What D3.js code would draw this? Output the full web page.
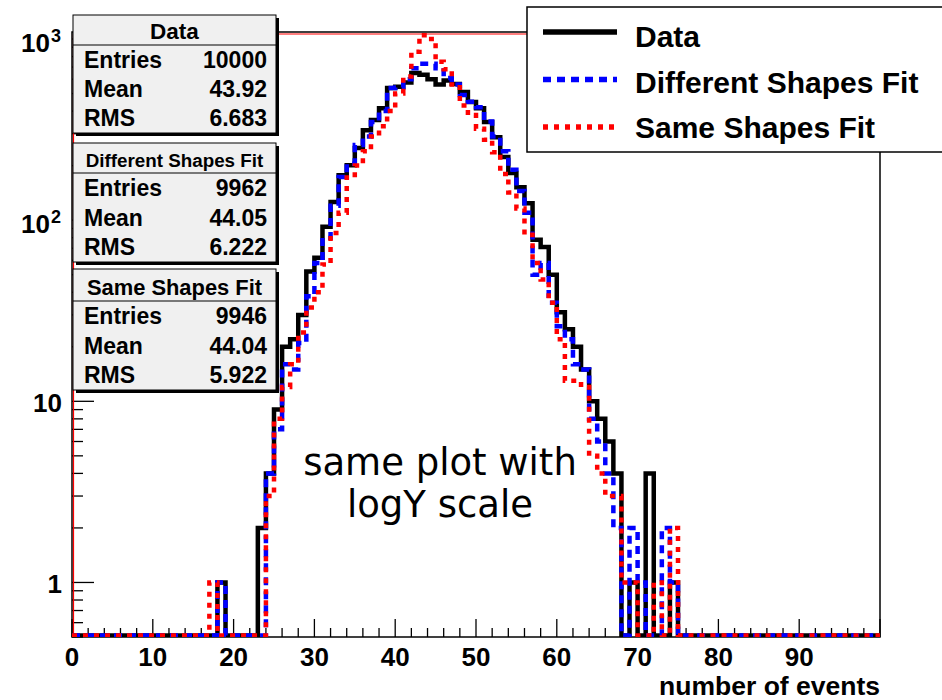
<!DOCTYPE html>
<html><head><meta charset="utf-8">
<script src="https://cdn.jsdelivr.net/npm/d3@7"></script>
<style>body{margin:0;background:#fff}svg{display:block}</style>
</head><body>
<svg id="c" width="942" height="700"></svg>
<script>
// ---------------- data ----------------
const nBins = 100;          // histogram: 100 bins of width 1 on [0,100)
const firstBin = 17;        // arrays below start at bin 17 and end at bin 74
const dataCounts = [0,1,0,0,0,0,2,4,9,20,22,30,52,62,92,126,177,201,250,314,357,415,536,545,575,650,635,600,560,590,565,510,449,415,348,287,223,182,152,124,78,71,50,31,25,20,15,10,8,6,4,0,1,0,4,0,0,1];
const diffShapeCounts = [0,1,0,0,0,0,0,4,7,16,15,21,38,58,80,120,173,205,260,290,348,400,536,540,600,690,730,730,690,610,560,490,450,420,350,290,240,190,145,110,50,58,35,26,22,16,15,8,6,4,2,0,2,1,0,0,2,1];
const sameShapeCounts = [1,0,0,0,0,0,0,3,8,12,16,24,33,40,57,85,110,172,200,240,290,330,400,500,620,850,1050,1000,750,680,560,430,380,320,278,237,180,142,116,83,58,47,35,22,13,13,12,5,4,3,3,1,1,0,0,1,0,2];
const xTickValues = [0,10,20,30,40,50,60,70,80,90];
const xTickLabels = ["0","10","20","30","40","50","60","70","80","90"];
const yTickValues = [1,10,100,1000];
const yTickLabels = [["1",""],["10",""],["10","2"],["10","3"]];
const statsTitles = ["Data","Different Shapes Fit","Same Shapes Fit"];
const statsEntries = ["10000","9962","9946"];
const statsMean = ["43.92","44.05","44.04"];
const statsRMS = ["6.683","6.222","5.922"];
const legendLabels = ["Data","Different Shapes Fit","Same Shapes Fit"];
const annotationLines = ["same plot with","logY scale"];
const xTitle = "number of events";

// ---------------- layout ----------------
const frame = {l:72, r:880, t:32, b:637};
const FONT = "'Liberation Sans', Arial, Helvetica, sans-serif";
const svg = d3.select("#c");

const x = d3.scaleLinear().domain([0, 100]).range([frame.l, frame.r]);
const y = d3.scaleLog().domain([0.5, 1093]).range([frame.b, frame.t]);
const zeroFloor = 0.51;

function expand(arr){
  const out = new Array(nBins).fill(0);
  arr.forEach((v,i)=>{ out[firstBin+i] = v; });
  return out;
}
const series = [
  {name:legendLabels[0], counts:expand(dataCounts), color:"#000", width:4.5, dash:null},
  {name:legendLabels[1], counts:expand(diffShapeCounts), color:"#0000ff", width:4.5, dash:"8,6"},
  {name:legendLabels[2], counts:expand(sameShapeCounts), color:"#ff0000", width:4.5, dash:"5,6"}
];

svg.append("defs").append("clipPath").attr("id","fc")
  .append("rect").attr("x",frame.l).attr("y",frame.t-3)
  .attr("width",frame.r-frame.l).attr("height",frame.b-frame.t+3);

// ticks (inside, ROOT style)
const yMinor = [];
[0.1,1,10,100].forEach(d=>{ for(let k=2;k<=9;k++){ const v=d*k; if(v>=0.5 && v<=1093) yMinor.push(v);} });
const gy = svg.append("g");
gy.selectAll("line.maj").data(yTickValues).join("line")
  .attr("x1",frame.l).attr("x2",frame.l+22).attr("y1",d=>y(d)).attr("y2",d=>y(d))
  .attr("stroke","#000").attr("stroke-width",1.3);
gy.selectAll("line.min").data(yMinor).join("line")
  .attr("x1",frame.l).attr("x2",frame.l+11).attr("y1",d=>y(d)).attr("y2",d=>y(d))
  .attr("stroke","#000").attr("stroke-width",1.3);

const xMinor = d3.range(0, 101, 2).filter(v=>v%10!==0);
const gx = svg.append("g");
gx.selectAll("line.maj").data(xTickValues.concat([100])).join("line")
  .attr("x1",d=>x(d)).attr("x2",d=>x(d)).attr("y1",frame.b).attr("y2",frame.b-18)
  .attr("stroke","#000").attr("stroke-width",1.3);
gx.selectAll("line.min").data(xMinor).join("line")
  .attr("x1",d=>x(d)).attr("x2",d=>x(d)).attr("y1",frame.b).attr("y2",frame.b-9)
  .attr("stroke","#000").attr("stroke-width",1.3);

// frame
svg.append("rect").attr("x",frame.l).attr("y",frame.t).attr("width",frame.r-frame.l).attr("height",frame.b-frame.t)
  .attr("fill","none").attr("stroke","#000").attr("stroke-width",1.5);
svg.append("line").attr("x1",frame.l+1.5).attr("x2",frame.r).attr("y1",frame.t+2).attr("y2",frame.t+2)
  .attr("stroke","#ff0000").attr("stroke-width",1.2);
svg.append("line").attr("x1",frame.l+1.5).attr("x2",frame.l+1.5).attr("y1",frame.t+2).attr("y2",frame.b)
  .attr("stroke","#ff0000").attr("stroke-width",1.2);

// histograms
const line = d3.line()
  .x(d=>x(d[0]))
  .y(d=>y(Math.max(d[1], zeroFloor)))
  .curve(d3.curveStepAfter);
const gh = svg.append("g").attr("clip-path","url(#fc)");
series.forEach(s=>{
  const pts = s.counts.map((v,i)=>[i, v]);
  pts.push([nBins, s.counts[nBins-1]]);
  gh.append("path").attr("d", line(pts))
    .attr("fill","none").attr("stroke",s.color).attr("stroke-width",s.width)
    .attr("stroke-dasharray",s.dash).attr("stroke-linejoin","miter");
});

// x labels
svg.append("g").selectAll("text").data(xTickValues).join("text")
  .attr("x",d=>x(d)).attr("y",frame.b+29).attr("text-anchor","middle")
  .attr("font-family",FONT).attr("font-weight","bold").attr("font-size",26)
  .text((d,i)=>xTickLabels[i]);
svg.append("text").attr("x",frame.r).attr("y",695).attr("text-anchor","end")
  .attr("font-family",FONT).attr("font-weight","bold").attr("font-size",26.5).text(xTitle);

// y labels
yTickValues.forEach((v,i)=>{
  const [base, ex] = yTickLabels[i];
  if(ex){
    svg.append("text").attr("x",50).attr("y",y(v)+13).attr("text-anchor","end")
      .attr("font-family",FONT).attr("font-weight","bold").attr("font-size",26).text(base);
    svg.append("text").attr("x",51).attr("y",y(v)+3).attr("text-anchor","start")
      .attr("font-family",FONT).attr("font-weight","bold").attr("font-size",18).text(ex);
  } else {
    svg.append("text").attr("x",62).attr("y",y(v)+11).attr("text-anchor","end")
      .attr("font-family",FONT).attr("font-weight","bold").attr("font-size",26).text(base);
  }
});

// annotation
svg.append("g").selectAll("text").data(annotationLines).join("text")
  .attr("x",440).attr("y",(d,i)=>475+i*42).attr("text-anchor","middle")
  .attr("font-family","'DejaVu Sans', sans-serif").attr("font-size",37).attr("fill","#000")
  .text(d=>d);

// stats boxes
const boxes = [
  {top:15, sep:45, bot:133, tsize:22.5},
  {top:143, sep:173, bot:262, tsize:18.8},
  {top:269, sep:301, bot:390, tsize:21.9}
];
const bx0 = 73, bx1 = 276;
boxes.forEach((b,i)=>{
  const g = svg.append("g");
  g.append("rect").attr("x",bx0+3).attr("y",b.top+3).attr("width",bx1-bx0).attr("height",b.bot-b.top).attr("fill","#000");
  g.append("rect").attr("x",bx0).attr("y",b.top).attr("width",bx1-bx0).attr("height",b.bot-b.top)
    .attr("fill","#f0f0f0").attr("stroke","#000").attr("stroke-width",1);
  g.append("line").attr("x1",bx0).attr("x2",bx1).attr("y1",b.sep).attr("y2",b.sep).attr("stroke","#000").attr("stroke-width",1);
  g.append("text").attr("x",(bx0+bx1)/2).attr("y",b.sep-6).attr("text-anchor","middle")
    .attr("font-family",FONT).attr("font-weight","bold").attr("font-size",b.tsize).text(statsTitles[i]);
  const rowH = (b.bot-b.sep)/3;
  const rows = [["Entries",statsEntries[i]],["Mean",statsMean[i]],["RMS",statsRMS[i]]];
  rows.forEach((r,j)=>{
    const yy = b.sep + rowH*(j+0.5) + 8;
    g.append("text").attr("x",bx0+11).attr("y",yy).attr("font-family",FONT).attr("font-weight","bold").attr("font-size",23).text(r[0]);
    g.append("text").attr("x",bx1-9).attr("y",yy).attr("text-anchor","end").attr("font-family",FONT).attr("font-weight","bold").attr("font-size",23).text(r[1]);
  });
});

// legend
const lg = svg.append("g");
lg.append("rect").attr("x",527).attr("y",7).attr("width",440).attr("height",145)
  .attr("fill","#fff").attr("stroke","#000").attr("stroke-width",1.5);
series.forEach((s,i)=>{
  const yy = 32 + i*47.5;
  lg.append("line").attr("x1",543).attr("x2",617).attr("y1",yy).attr("y2",yy)
    .attr("stroke",s.color).attr("stroke-width",5.5).attr("stroke-dasharray",s.dash);
  lg.append("text").attr("x",635).attr("y",47 + i*45.5).attr("font-family",FONT).attr("font-weight","bold")
    .attr("font-size",30).text(s.name);
});
</script>
</body></html>
